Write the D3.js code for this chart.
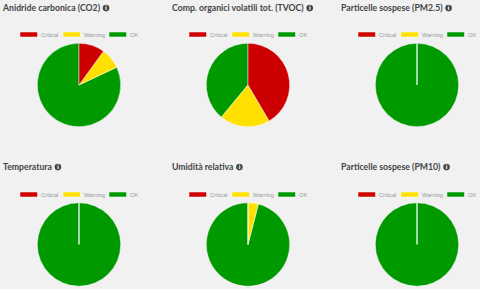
<!DOCTYPE html>
<meta charset="utf-8">
<script src="https://d3js.org/d3.v7.min.js"></script>
<style>
html, body { margin: 0; padding: 0; background: #f1f1f1; overflow: hidden; }
svg { display: block; }
.title { font: 700 8.7px Lato, sans-serif; fill: #444; }
.legend text { font: 5.7px "Liberation Sans", sans-serif; fill: #999; }
</style>
<body>
<svg width="480" height="289"></svg>
<script>
  var statuses = ['Critical', 'Warning', 'OK'];
  var colors = ['#cc0000', '#ffe000', '#009900'];

  var titles = [
    'Anidride carbonica (CO2)',
    'Comp. organici volatili tot. (TVOC)',
    'Particelle sospese (PM2.5)',
    'Temperatura',
    'Umidità relativa',
    'Particelle sospese (PM10)'
  ];

  var co2 = [10, 8, 82];
  var tvoc = [41.5, 19.5, 39];
  var pm25 = [0, 0, 100];
  var temperatura = [0, 0, 100];
  var umidita = [0, 4, 96];
  var pm10 = [0, 0, 100];
  var values = [co2, tvoc, pm25, temperatura, umidita, pm10];

  var svg = d3.select('svg');
  var colX = [3, 172, 341], titleY = [11.3, 170.3];
  var pieX = [79, 248, 417], pieY = [85, 244.5];
  var legendY = [32, 192];
  var legendOffs = [0, 43, 89];
  var radius = 41.7;

  var pie = d3.pie().sort(null);
  var arc = d3.arc().innerRadius(0).outerRadius(radius);
  var color = d3.scaleOrdinal().domain(statuses).range(colors);

  values.forEach(function(v, i){
    var col = i % 3, row = Math.floor(i / 3);
    var g = svg.append('g');

    /* title + info icon */
    var title = g.append('text')
      .attr('class', 'title')
      .attr('x', colX[col])
      .attr('y', titleY[row])
      .text(titles[i]);
    var iconX = colX[col] + title.node().getComputedTextLength() + 6;
    var iconY = titleY[row] - 3.2;
    g.append('circle').attr('cx', iconX).attr('cy', iconY).attr('r', 3.3).attr('fill', '#444');
    g.append('text')
      .attr('x', iconX).attr('y', iconY + 2.2)
      .attr('text-anchor', 'middle')
      .style('font', '700 6px "DejaVu Sans", sans-serif')
      .attr('fill', '#f1f1f1')
      .text('i');

    /* legend */
    var legend = g.append('g').attr('class', 'legend')
      .attr('transform', 'translate(' + (pieX[col] - 59) + ',' + legendY[row] + ')');
    statuses.forEach(function(s, k){
      legend.append('rect')
        .attr('x', legendOffs[k]).attr('y', 0)
        .attr('width', 17.5).attr('height', 5)
        .attr('fill', color(s))
        .attr('stroke', '#fff').attr('stroke-width', .5);
      legend.append('text')
        .attr('x', legendOffs[k] + 21).attr('y', 4.8)
        .text(s);
    });

    /* pie - drawn backwards so the white edge of empty slices stays visible */
    var slices = pie(v).map(function(d, k){ d.status = statuses[k]; return d; }).reverse();
    g.append('g')
      .attr('transform', 'translate(' + pieX[col] + ',' + pieY[row] + ')')
      .selectAll('path').data(slices)
      .enter().append('path')
      .attr('d', arc)
      .attr('fill', function(d){ return color(d.status); })
      .attr('stroke', '#fff')
      .attr('stroke-opacity', .65)
      .attr('stroke-width', .7);
  });
</script>
</body>
